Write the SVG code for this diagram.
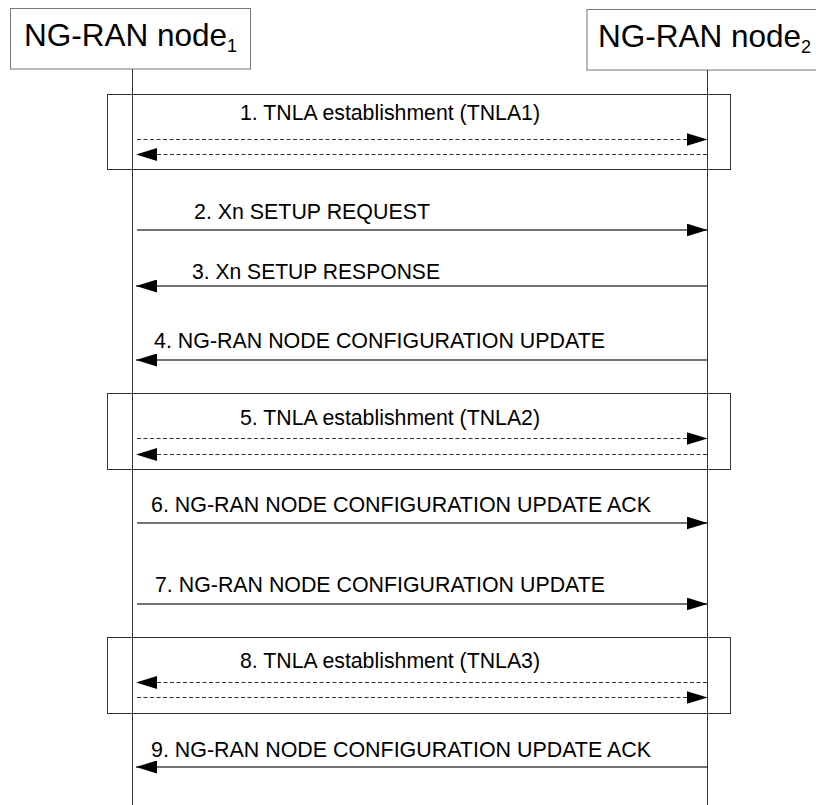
<svg xmlns="http://www.w3.org/2000/svg" width="816" height="805" viewBox="0 0 816 805">
<style>
.hdr{fill:#fff;stroke:#777;stroke-width:1}
.hdrtxt{font-family:"Liberation Sans",Arial,sans-serif;font-size:31.5px;fill:#000}
.life{stroke:#333;stroke-width:1;fill:none}
.frame{fill:none;stroke:#333;stroke-width:1}
.msg{stroke:#444;stroke-width:1.3;fill:none}
.dash{stroke:#333;stroke-width:1;stroke-dasharray:4 2.5;fill:none}
.lbl{font-family:"Liberation Sans",Arial,sans-serif;font-size:22px;fill:#000}
</style>
<defs>
<marker id="ah" viewBox="0 0 21 13" refX="21" refY="6.5" markerWidth="21" markerHeight="13" markerUnits="userSpaceOnUse" orient="auto">
<path d="M0,0 L21,6.5 L0,13 Z" fill="#000" stroke="none"/>
</marker>
</defs>
<rect width="816" height="805" fill="#fff"/>
<g id="node1">
<rect class="hdr" x="10.5" y="8.5" width="240" height="60.5"/>
<text class="hdrtxt" x="24" y="46">NG-RAN node<tspan font-size="18" dy="6">1</tspan></text>
<line class="life" x1="132.5" y1="69" x2="132.5" y2="805"/>
</g>
<g id="node2">
<rect class="hdr" x="587" y="9.5" width="245" height="60.5"/>
<text class="hdrtxt" x="598" y="47">NG-RAN node<tspan font-size="18" dy="6">2</tspan></text>
<line class="life" x1="707.5" y1="70" x2="707.5" y2="805"/>
</g>
<g id="frame1">
<rect class="frame" x="107.5" y="94.5" width="623" height="75"/>
<text class="lbl" x="240" y="120" textLength="300" lengthAdjust="spacingAndGlyphs">1. TNLA establishment (TNLA1)</text>
</g>
<g id="frame2">
<rect class="frame" x="107.5" y="393.5" width="623" height="76"/>
<text class="lbl" x="240" y="425" textLength="300" lengthAdjust="spacingAndGlyphs">5. TNLA establishment (TNLA2)</text>
</g>
<g id="frame3">
<rect class="frame" x="107.5" y="637.5" width="623" height="76"/>
<text class="lbl" x="240" y="668" textLength="300" lengthAdjust="spacingAndGlyphs">8. TNLA establishment (TNLA3)</text>
</g>
<g id="labels">
<text class="lbl" x="194" y="219" textLength="236" lengthAdjust="spacingAndGlyphs">2. Xn SETUP REQUEST</text>
<text class="lbl" x="192" y="279" textLength="248" lengthAdjust="spacingAndGlyphs">3. Xn SETUP RESPONSE</text>
<text class="lbl" x="154" y="348" textLength="451" lengthAdjust="spacingAndGlyphs">4. NG-RAN NODE CONFIGURATION UPDATE</text>
<text class="lbl" x="151" y="512" textLength="500" lengthAdjust="spacingAndGlyphs">6. NG-RAN NODE CONFIGURATION UPDATE ACK</text>
<text class="lbl" x="155" y="592" textLength="450" lengthAdjust="spacingAndGlyphs">7. NG-RAN NODE CONFIGURATION UPDATE</text>
<text class="lbl" x="151" y="757" textLength="500" lengthAdjust="spacingAndGlyphs">9. NG-RAN NODE CONFIGURATION UPDATE ACK</text>
</g>
<g id="connectors">
<line class="dash" x1="137" y1="139.5" x2="707.5" y2="139.5" marker-end="url(#ah)"/>
<line class="dash" x1="707" y1="154.5" x2="136" y2="154.5" marker-end="url(#ah)"/>
<line class="msg" x1="137" y1="230" x2="707.5" y2="230" marker-end="url(#ah)"/>
<line class="msg" x1="707" y1="286" x2="136" y2="286" marker-end="url(#ah)"/>
<line class="msg" x1="707" y1="360" x2="136" y2="360" marker-end="url(#ah)"/>
<line class="dash" x1="137" y1="438.5" x2="707.5" y2="438.5" marker-end="url(#ah)"/>
<line class="dash" x1="707" y1="454.5" x2="136" y2="454.5" marker-end="url(#ah)"/>
<line class="msg" x1="137" y1="523" x2="707.5" y2="523" marker-end="url(#ah)"/>
<line class="msg" x1="137" y1="604" x2="707.5" y2="604" marker-end="url(#ah)"/>
<line class="dash" x1="707" y1="682.5" x2="136" y2="682.5" marker-end="url(#ah)"/>
<line class="dash" x1="137" y1="697.5" x2="707.5" y2="697.5" marker-end="url(#ah)"/>
<line class="msg" x1="707" y1="767" x2="136" y2="767" marker-end="url(#ah)"/>
</g>
</svg>
